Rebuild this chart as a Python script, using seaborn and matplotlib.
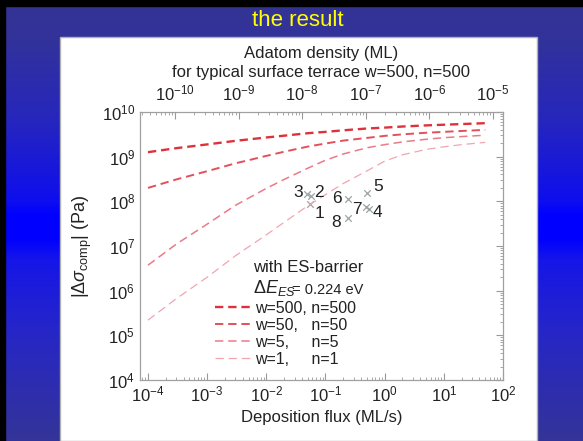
import numpy as np
import matplotlib
matplotlib.use('Agg')
import matplotlib.pyplot as plt
import seaborn as sns
from matplotlib.patches import Rectangle
from matplotlib.ticker import LogLocator, NullFormatter

# grafikteki değerler (okunarak tahmin edildi)
flux = [1e-4, 3e-4, 1e-3, 3e-3, 1e-2, 2e-2, 5e-2, 0.1, 0.2, 0.5, 1, 2, 5, 10, 20, 50]
sigma_w500 = [1.26e9, 1.55e9, 1.88e9, 2.26e9, 2.69e9, 2.95e9, 3.35e9, 3.59e9,
              3.89e9, 4.27e9, 4.47e9, 4.73e9, 5.01e9, 5.19e9, 5.37e9, 5.62e9]
sigma_w50 = [2.00e8, 3.09e8, 4.73e8, 7.08e8, 1.04e9, 1.29e9, 1.68e9, 1.97e9,
             2.29e9, 2.63e9, 2.92e9, 3.16e9, 3.43e9, 3.59e9, 3.76e9, 3.98e9]
sigma_w5 = [3.72e6, 1.10e7, 3.09e7, 8.13e7, 1.95e8, 3.09e8, 5.50e8, 8.32e8,
            1.15e9, 1.58e9, 1.86e9, 2.14e9, 2.45e9, 2.66e9, 2.82e9, 3.02e9]
sigma_w1 = [2.19e5, 6.61e5, 2.00e6, 6.03e6, 1.78e7, 3.39e7, 7.94e7, 1.41e8,
            2.51e8, 4.79e8, 7.94e8, 1.10e9, 1.45e9, 1.66e9, 1.86e9, 2.09e9]
series_labels = ['w=500, n=500', 'w=50,   n=50', 'w=5,     n=5', 'w=1,     n=1']

# deney noktaları
point_names = ['1', '2', '3', '4', '5', '6', '7', '8']
point_flux = [0.0547, 0.0569, 0.0486, 0.54, 0.50, 0.24, 0.48, 0.24]
point_sigma = [8.7e7, 1.32e8, 1.46e8, 6.7e7, 1.54e8, 1.12e8, 7.4e7, 4.3e7]

bottom_ticks = [1e-4, 1e-3, 1e-2, 1e-1, 1e0, 1e1, 1e2]
top_ticks = [1e-10, 1e-9, 1e-8, 1e-7, 1e-6, 1e-5]
y_ticks = [1e4, 1e5, 1e6, 1e7, 1e8, 1e9, 1e10]

sns.set_style('white')
plt.rcParams['font.family'] = ['Liberation Sans', 'DejaVu Sans']
plt.rcParams['mathtext.fontset'] = 'custom'
plt.rcParams['mathtext.rm'] = 'Liberation Sans'
plt.rcParams['mathtext.it'] = 'Liberation Sans:italic'
plt.rcParams['mathtext.sf'] = 'Liberation Sans'
plt.rcParams['lines.scale_dashes'] = False

W, H = 583, 441
fig = plt.figure(figsize=(W / 100, H / 100), dpi=100)

# slayt arka planı (mavi geçiş)
bg = fig.add_axes([0, 0, 1, 1])
gy = [0, 40, 120, 200, 214, 238, 260, 330, 441]
gr = [52, 50, 38, 14, 0, 0, 22, 38, 52]
gb = [148, 155, 190, 238, 255, 255, 232, 200, 152]
rows = np.arange(H)
r = np.interp(rows, gy, gr) / 255
b = np.interp(rows, gy, gb) / 255
img = np.stack([r, r, b], axis=1)[:, None, :].repeat(2, axis=1)
bg.imshow(img, aspect='auto', extent=[0, W, H, 0])
bg.add_patch(Rectangle((0, 0), W, 6, color='black'))
bg.add_patch(Rectangle((0, 0), 5, H, color='black'))
bg.add_patch(Rectangle((60, 37), 477, H - 37, facecolor='white', edgecolor='#b0b0b0', lw=1))
bg.set_xlim(0, W)
bg.set_ylim(H, 0)
bg.axis('off')
bg.text(298, 20, 'the result', color='#ffff00', fontsize=16, ha='center', va='center')

# ana grafik
ax = fig.add_axes([140 / W, 1 - 380 / H, 363 / W, 268 / H])
ax.set_facecolor('white')
colors = ['#dc323c', '#e2505c', '#e97b89', '#f1a5b1']
widths = [1.7, 1.4, 1.1, 0.9]
for vals, lab, c, lw in zip([sigma_w500, sigma_w50, sigma_w5, sigma_w1], series_labels, colors, widths):
    sns.lineplot(x=flux, y=vals, ax=ax, color=c, linewidth=lw, linestyle=(0, (6, 3.5)), label=lab)

sns.scatterplot(x=point_flux, y=point_sigma, ax=ax, marker='x', color='#9aa4a4', s=22, linewidth=0.9)
offsets = {'1': (10, -9), '2': (8, 3), '3': (-9, 1), '4': (9, -3), '5': (11, 6),
           '6': (-11, 1), '7': (-9, -2), '8': (-12, -5)}
for name, fx, sg in zip(point_names, point_flux, point_sigma):
    ax.annotate(name, (fx, sg), xytext=offsets[name], textcoords='offset pixels',
                ha='center', va='center', fontsize=12.5, color='#222222')

ax.set_xscale('log')
ax.set_yscale('log')
ax.set_xlim(10 ** -4.135, 1e2)
ax.set_ylim(1e4, 1e10)
ax.set_xticks(bottom_ticks)
ax.set_yticks(y_ticks)
ax.xaxis.set_minor_locator(LogLocator(base=10, subs=np.arange(2, 10)))
ax.yaxis.set_minor_locator(LogLocator(base=10, subs=np.arange(2, 10)))
ax.xaxis.set_minor_formatter(NullFormatter())
ax.yaxis.set_minor_formatter(NullFormatter())
ax.tick_params(which='both', direction='in', top=False, right=True, colors='#999999',
               labelcolor='#222222', labelsize=12)
ax.tick_params(which='major', length=5, width=0.8)
ax.tick_params(which='minor', length=2.5, width=0.6)
for s in ax.spines.values():
    s.set_color('#a0a0a0')
    s.set_linewidth(0.9)
ax.set_xlabel('Deposition flux (ML/s)', fontsize=12, color='#222222', labelpad=4)
ax.set_ylabel(r'$|\Delta\sigma_{\mathrm{comp}}|$ (Pa)', fontsize=13, color='#222222', labelpad=6)

# üst eksen: adatom yoğunluğu
ax2 = ax.twiny()
ax2.set_xscale('log')
ax2.set_xlim(10 ** -10.55, 10 ** -4.84)
ax2.set_xticks(top_ticks)
ax2.xaxis.set_minor_locator(LogLocator(base=10, subs=np.arange(2, 10)))
ax2.xaxis.set_minor_formatter(NullFormatter())
ax2.tick_params(which='both', direction='in', colors='#999999', labelcolor='#222222', labelsize=12)
ax2.tick_params(which='major', length=5, width=0.8, pad=6)
ax2.tick_params(which='minor', length=2.5, width=0.6)
for s in ax2.spines.values():
    s.set_visible(False)
ax2.set_xlabel('Adatom density (ML)\nfor typical surface terrace w=500, n=500',
               fontsize=12, color='#222222', labelpad=5, linespacing=1.3)

# lejant
ax.text(0.311, 0.418, 'with ES-barrier', transform=ax.transAxes, fontsize=12,
        color='#222222', va='center')
ax.text(0.311, 0.345, r'$\mathit{\Delta E_{ES}}$', transform=ax.transAxes, fontsize=13,
        color='#222222', va='center')
ax.text(0.418, 0.335, '= 0.224 eV', transform=ax.transAxes, fontsize=10.5,
        color='#222222', va='center')
ax.legend(loc='upper left', bbox_to_anchor=(0.207, 0.295), frameon=False, fontsize=11.5,
          borderpad=0, borderaxespad=0, handlelength=2.2, handletextpad=0.3,
          labelspacing=0.12, labelcolor='#222222')

fig.savefig('out.png', dpi=100)
